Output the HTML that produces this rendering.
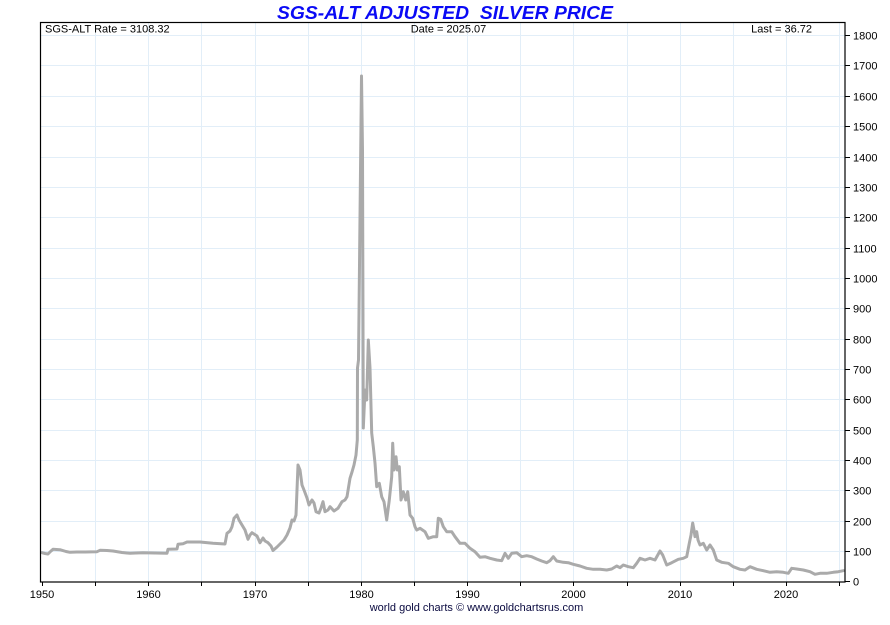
<!DOCTYPE html>
<html>
<head>
<meta charset="utf-8">
<style>
  html, body { margin:0; padding:0; background:#ffffff; }
  svg { display:block; }
  text { font-family: "Liberation Sans", Arial, sans-serif; }
</style>
</head>
<body>
<svg width="890" height="625" viewBox="0 0 890 625" xmlns="http://www.w3.org/2000/svg">
  <rect x="0" y="0" width="890" height="625" fill="#ffffff"/>

  <!-- grid -->
  <g stroke="#e2eef8" stroke-width="1" fill="none">
    <line x1="95.5" y1="22" x2="95.5" y2="582"/>
    <line x1="148.5" y1="22" x2="148.5" y2="582"/>
    <line x1="201.5" y1="22" x2="201.5" y2="582"/>
    <line x1="255.5" y1="22" x2="255.5" y2="582"/>
    <line x1="308.5" y1="22" x2="308.5" y2="582"/>
    <line x1="361.5" y1="22" x2="361.5" y2="582"/>
    <line x1="414.5" y1="22" x2="414.5" y2="582"/>
    <line x1="467.5" y1="22" x2="467.5" y2="582"/>
    <line x1="520.5" y1="22" x2="520.5" y2="582"/>
    <line x1="573.5" y1="22" x2="573.5" y2="582"/>
    <line x1="627.5" y1="22" x2="627.5" y2="582"/>
    <line x1="680.5" y1="22" x2="680.5" y2="582"/>
    <line x1="733.5" y1="22" x2="733.5" y2="582"/>
    <line x1="786.5" y1="22" x2="786.5" y2="582"/>
    <line x1="839.5" y1="22" x2="839.5" y2="582"/>
    <line x1="40" y1="551.5" x2="845" y2="551.5"/>
    <line x1="40" y1="521.5" x2="845" y2="521.5"/>
    <line x1="40" y1="490.5" x2="845" y2="490.5"/>
    <line x1="40" y1="460.5" x2="845" y2="460.5"/>
    <line x1="40" y1="430.5" x2="845" y2="430.5"/>
    <line x1="40" y1="399.5" x2="845" y2="399.5"/>
    <line x1="40" y1="369.5" x2="845" y2="369.5"/>
    <line x1="40" y1="339.5" x2="845" y2="339.5"/>
    <line x1="40" y1="308.5" x2="845" y2="308.5"/>
    <line x1="40" y1="278.5" x2="845" y2="278.5"/>
    <line x1="40" y1="248.5" x2="845" y2="248.5"/>
    <line x1="40" y1="217.5" x2="845" y2="217.5"/>
    <line x1="40" y1="187.5" x2="845" y2="187.5"/>
    <line x1="40" y1="157.5" x2="845" y2="157.5"/>
    <line x1="40" y1="126.5" x2="845" y2="126.5"/>
    <line x1="40" y1="96.5" x2="845" y2="96.5"/>
    <line x1="40" y1="65.5" x2="845" y2="65.5"/>
    <line x1="40" y1="35.5" x2="845" y2="35.5"/>
  </g>

  <!-- series -->
  <polyline fill="none" stroke="#aaaaaa" stroke-width="3" stroke-linejoin="round" stroke-linecap="round" points="
42,552.7 45,553.5 48,554 51,551 53,549.3 60,549.7 66,551.5 70,552.3 77,552 85,552 97,551.7 100,550.3 107,550.5 113,551 122,552.5 130,553.3 136,553 143,552.7 155,553 167,553.3 168,549.3 177,549 178,544.3 183,543.7 187,542 200,542 213,543.3 225,544 227,533.3 230,531 232,526.7 234,518.3 237,515 239,520 242,525 245,530 248,539.3 250,535 252,532.7 254,534 257,536 260,542.7 263,538 265,541 268,542.7 271,546 273,550.5 277,547 280,544 284,540 287,535 290,528 292,520 294,521 296,515 298,465 300,470 302,485 304,490 307,498 309,505 312,500 314,503 316,511.7 319,513 321,508 323,501.7 325,511.7 328,510 330,506.7 334,511 338,508.3 342,501.7 345,500 347,496.7 350,478.3 352,472 354,465 356,455 357.3,440 357.5,368 358.5,360 361.5,76 362.5,150 363.3,428 365,390 366.7,400 368.3,340 370,368 371.7,433 373.3,446.7 375,463 376.7,486.7 379.3,483.3 381.7,496.7 384,501.7 386.7,520 389.3,500 391.7,476.7 392.7,443.3 394,470 396,456.7 397.3,470 399.3,466.7 401,500 403.3,491.7 405.7,500 407.7,491.7 410,515 412.7,518.3 415,526.7 416.7,530 420,528.3 425,531.7 428.3,538.3 433.3,536.7 436.7,536.7 438.3,518.3 440.7,519.3 443.3,526.7 446.7,531.7 451.7,531.7 455,536.7 460,543.3 465,543.3 470,548.3 475,551.7 480,557.3 485,556.7 490,558.3 496.7,560 501.7,560.7 505,553.3 508.3,558.3 511.7,553.3 516.7,552.7 521.7,556.7 526.7,555.7 531.7,556.7 536.7,559 541.7,561 546.7,562.7 550,560.7 553.3,556.7 556.7,561 563.3,562.3 568.3,562.7 573.3,564.3 580,566 586.7,568.3 593.3,569.3 600,569.3 606.7,570 611.7,569 616.7,566 620,567.7 623.3,565 628.3,566.7 633.3,567.7 636.7,563.3 640,558.3 645,560 650,558.3 655,560 660,551 662.7,555 666.7,565 671.7,562.7 678.3,559.3 683.3,558.3 686.7,556.7 689.3,543.3 691,535 692.7,523 694,530 695,536.7 696.7,531.7 698,540 700,545 703.3,543.3 706.7,550 710,545 713.3,550 716.7,560 721.7,562.3 728.3,563.3 733.3,566.7 740,569.3 745,570 750,566.7 756.7,569.3 763.3,570.7 770,572.3 776.7,571.7 783.3,572.3 788.3,573.3 791.7,568.3 796.7,569 803.3,570 810,571.7 815,574.3 820,573.3 826.7,573.3 833.3,572.3 838.3,571.7 843.3,570.7"/>

  <!-- frame -->
  <rect x="40.5" y="22.5" width="804.5" height="559.5" fill="none" stroke="#000000" stroke-width="1.2"/>

  <!-- x ticks -->
  <g stroke="#000" stroke-width="1">
    <line x1="42.5" y1="582" x2="42.5" y2="586"/>
    <line x1="95.5" y1="582" x2="95.5" y2="586"/>
    <line x1="148.5" y1="582" x2="148.5" y2="586"/>
    <line x1="201.5" y1="582" x2="201.5" y2="586"/>
    <line x1="255.5" y1="582" x2="255.5" y2="586"/>
    <line x1="308.5" y1="582" x2="308.5" y2="586"/>
    <line x1="361.5" y1="582" x2="361.5" y2="586"/>
    <line x1="414.5" y1="582" x2="414.5" y2="586"/>
    <line x1="467.5" y1="582" x2="467.5" y2="586"/>
    <line x1="520.5" y1="582" x2="520.5" y2="586"/>
    <line x1="573.5" y1="582" x2="573.5" y2="586"/>
    <line x1="627.5" y1="582" x2="627.5" y2="586"/>
    <line x1="680.5" y1="582" x2="680.5" y2="586"/>
    <line x1="733.5" y1="582" x2="733.5" y2="586"/>
    <line x1="786.5" y1="582" x2="786.5" y2="586"/>
    <line x1="839.5" y1="582" x2="839.5" y2="586"/>
  </g>
  <g font-size="11" fill="#000" text-anchor="middle">
    <text x="42" y="598">1950</text>
    <text x="148.5" y="598">1960</text>
    <text x="255" y="598">1970</text>
    <text x="361.5" y="598">1980</text>
    <text x="467.5" y="598">1990</text>
    <text x="573.5" y="598">2000</text>
    <text x="680" y="598">2010</text>
    <text x="786" y="598">2020</text>
  </g>

  <!-- y ticks -->
  <g stroke="#000" stroke-width="1">
    <line x1="845" y1="581.5" x2="850" y2="581.5"/>
    <line x1="845" y1="551.5" x2="850" y2="551.5"/>
    <line x1="845" y1="521.5" x2="850" y2="521.5"/>
    <line x1="845" y1="490.5" x2="850" y2="490.5"/>
    <line x1="845" y1="460.5" x2="850" y2="460.5"/>
    <line x1="845" y1="430.5" x2="850" y2="430.5"/>
    <line x1="845" y1="399.5" x2="850" y2="399.5"/>
    <line x1="845" y1="369.5" x2="850" y2="369.5"/>
    <line x1="845" y1="339.5" x2="850" y2="339.5"/>
    <line x1="845" y1="308.5" x2="850" y2="308.5"/>
    <line x1="845" y1="278.5" x2="850" y2="278.5"/>
    <line x1="845" y1="248.5" x2="850" y2="248.5"/>
    <line x1="845" y1="217.5" x2="850" y2="217.5"/>
    <line x1="845" y1="187.5" x2="850" y2="187.5"/>
    <line x1="845" y1="157.5" x2="850" y2="157.5"/>
    <line x1="845" y1="126.5" x2="850" y2="126.5"/>
    <line x1="845" y1="96.5" x2="850" y2="96.5"/>
    <line x1="845" y1="65.5" x2="850" y2="65.5"/>
    <line x1="845" y1="35.5" x2="850" y2="35.5"/>
  </g>
  <g font-size="11" fill="#000">
    <text x="853" y="585.5">0</text>
    <text x="853" y="555.5">100</text>
    <text x="853" y="525.5">200</text>
    <text x="853" y="494.5">300</text>
    <text x="853" y="464.5">400</text>
    <text x="853" y="434.5">500</text>
    <text x="853" y="403.5">600</text>
    <text x="853" y="373.5">700</text>
    <text x="853" y="343.5">800</text>
    <text x="853" y="312.5">900</text>
    <text x="853" y="282.5">1000</text>
    <text x="853" y="252.5">1100</text>
    <text x="853" y="221.5">1200</text>
    <text x="853" y="191.5">1300</text>
    <text x="853" y="161.5">1400</text>
    <text x="853" y="130.5">1500</text>
    <text x="853" y="100.5">1600</text>
    <text x="853" y="69.5">1700</text>
    <text x="853" y="39.5">1800</text>
  </g>

  <!-- header texts -->
  <g font-size="11" fill="#000">
    <text x="45" y="32.5">SGS-ALT Rate = 3108.32</text>
    <text x="448.5" y="32.5" text-anchor="middle">Date = 2025.07</text>
    <text x="812" y="32.5" text-anchor="end">Last = 36.72</text>
  </g>

  <!-- title -->
  <text x="277" y="19" font-size="18" font-weight="bold" font-style="italic" fill="#0a0af5" textLength="336" lengthAdjust="spacingAndGlyphs" xml:space="preserve">SGS-ALT ADJUSTED  SILVER PRICE</text>

  <!-- footer -->
  <text x="476.5" y="611" font-size="11" fill="#0a0a40" text-anchor="middle">world gold charts © www.goldchartsrus.com</text>
</svg>
</body>
</html>
